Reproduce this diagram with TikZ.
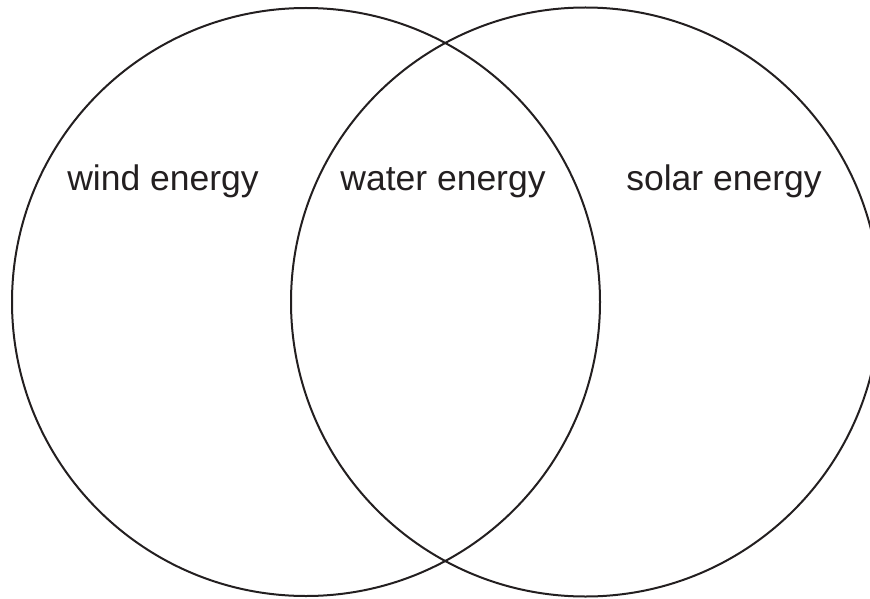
\documentclass[tikz,border=0pt]{standalone}
\usepackage{fontspec}
\setmainfont{Liberation Sans}
\definecolor{ink}{HTML}{231F20}
\begin{document}
\begin{tikzpicture}[x=1pt,y=-1pt,
  ring/.style={draw=ink,line width=2pt},
  lbl/.style={text=ink,font=\fontsize{35.5}{40}\selectfont,anchor=base,inner sep=0pt}]
\useasboundingbox (0,0) rectangle (870,599);
\clip (0,0) rectangle (870,599);
\node[ring,circle,minimum size=588pt,inner sep=0pt] (left) at (306,302) {};
\node[ring,circle,minimum size=589pt,inner sep=0pt] (right) at (585.5,302) {};
\node[lbl] (wind) at (163,190) {wind energy};
\node[lbl] (water) at (443,190) {water energy};
\node[lbl] (solar) at (724,190) {solar energy};
\end{tikzpicture}
\end{document}
